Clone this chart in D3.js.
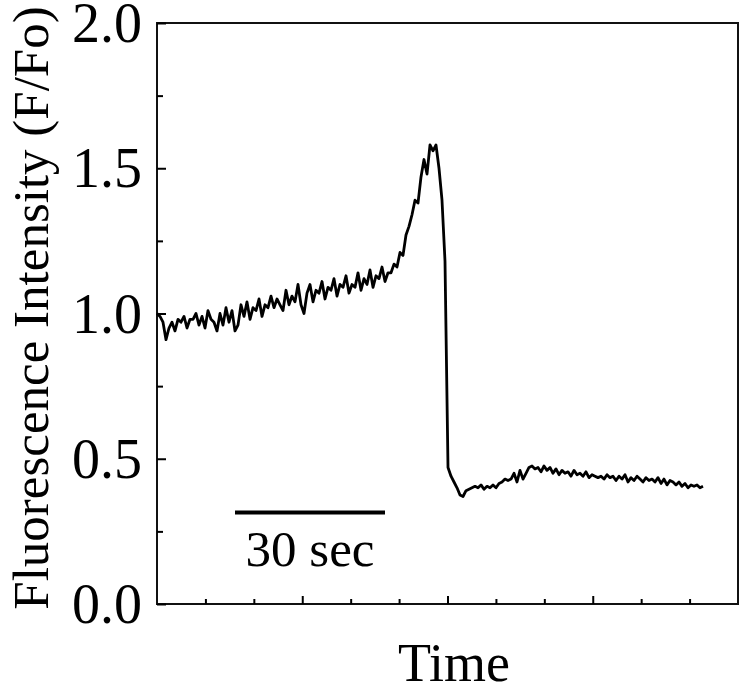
<!DOCTYPE html>
<html>
<head>
<meta charset="utf-8">
<script src="https://cdn.jsdelivr.net/npm/d3@7"></script>
<style>
  body { margin: 0; background: #fff; }
  svg text { font-family: "Liberation Serif", "Times New Roman", serif; fill: #000; }
</style>
</head>
<body>
<div id="chart"></div>
<script>
// fluorescence trace, one sample every 0.6 s
const sampleInterval = 0.6
const fluorescence = [
  1.00, 0.99, 0.97, 0.91, 0.95, 0.97, 0.94, 0.98, 0.97, 0.99,
  0.95, 0.98, 0.98, 1.00, 0.96, 0.99, 0.95, 1.01, 0.98, 0.97,
  0.94, 1.00, 0.96, 1.02, 0.97, 1.01, 0.94, 0.96, 1.03, 0.99,
  1.04, 0.98, 1.02, 1.01, 1.05, 0.99, 1.03, 1.02, 1.06, 1.02,
  1.05, 1.03, 1.01, 1.08, 1.03, 1.06, 1.04, 1.10, 1.03, 1.00,
  1.07, 1.10, 1.04, 1.08, 1.07, 1.11, 1.05, 1.09, 1.08, 1.12,
  1.06, 1.10, 1.09, 1.13, 1.07, 1.10, 1.09, 1.14, 1.08, 1.12,
  1.10, 1.15, 1.09, 1.13, 1.12, 1.16, 1.11, 1.14, 1.14, 1.17,
  1.16, 1.21, 1.20, 1.27, 1.30, 1.34, 1.39, 1.38, 1.47, 1.53,
  1.48, 1.58, 1.56, 1.58, 1.50, 1.39, 1.18, 0.47, 0.44, 0.42,
  0.40, 0.375, 0.37, 0.39, 0.395,
  0.40, 0.405, 0.40, 0.41, 0.395, 0.405, 0.40, 0.41, 0.40, 0.415,
  0.42, 0.43, 0.425, 0.43, 0.45, 0.42, 0.46, 0.43, 0.45, 0.47,
  0.475, 0.465, 0.47, 0.455, 0.475, 0.46, 0.47, 0.45, 0.465, 0.445,
  0.46, 0.45, 0.455, 0.44, 0.46, 0.445, 0.45, 0.44, 0.455, 0.435,
  0.445, 0.44, 0.435, 0.44, 0.43, 0.445, 0.435, 0.44, 0.425, 0.44,
  0.43, 0.445, 0.42, 0.435, 0.425, 0.44, 0.43, 0.42, 0.435, 0.425,
  0.43, 0.42, 0.435, 0.415, 0.43, 0.41, 0.425, 0.42, 0.41, 0.42,
  0.405, 0.415, 0.40, 0.41, 0.405, 0.41, 0.40, 0.405
]
const yTickLabels = ["0.0", "0.5", "1.0", "1.5", "2.0"]
const yMinorTicks = [0.25, 0.75, 1.25, 1.75]
const xDomainEnd = 116.2   // seconds spanned by the frame
const xTickCount = 12
const scaleBarStart = 15.6
const scaleBarLength = 30

const trace = fluorescence.map((v, i) => ({t: i * sampleInterval, value: v}))

const W = 745, H = 692
const margin = {left: 157, top: 23, right: 7, bottom: 88}
const innerW = W - margin.left - margin.right
const innerH = H - margin.top - margin.bottom

const svg = d3.select("#chart")
  .append("svg")
    .attr("width", W)
    .attr("height", H)

const g = svg.append("g")
  .attr("transform", `translate(${margin.left}, ${margin.top})`)

const x = d3.scaleLinear()
  .domain([0, xDomainEnd])
  .range([0, innerW])

const y = d3.scaleLinear()
  .domain([0, 2])
  .range([innerH, 0])

// frame
g.append("rect")
  .attr("width", innerW)
  .attr("height", innerH)
  .attr("fill", "none")
  .attr("stroke", "#111")
  .attr("stroke-width", 2)

// y axis, ticks pointing inward
const yAxis = g.append("g")
  .call(d3.axisRight(y)
    .tickValues(yTickLabels.map(Number))
    .tickSize(9)
    .tickFormat(""))
yAxis.select(".domain").remove()
yAxis.selectAll("line").attr("stroke", "#000").attr("stroke-width", 2)

const yMinor = g.append("g")
  .call(d3.axisRight(y).tickValues(yMinorTicks).tickSize(6).tickFormat(""))
yMinor.select(".domain").remove()
yMinor.selectAll("line").attr("stroke", "#000").attr("stroke-width", 2)

g.selectAll(".ylab")
  .data(yTickLabels)
  .enter()
  .append("text")
    .attr("class", "ylab")
    .attr("x", -15)
    .attr("y", d => y(+d))
    .attr("dy", "0.34em")
    .attr("text-anchor", "end")
    .style("font-size", "56px")
    .text(d => d)

// x axis, ticks pointing up into the plot
const xTicks = d3.range(1, xTickCount).map(k => k * xDomainEnd / xTickCount)
const xAxis = g.append("g")
  .attr("transform", `translate(0, ${innerH})`)
  .call(d3.axisTop(x)
    .tickValues(xTicks)
    .tickSize(5)
    .tickFormat(""))
xAxis.select(".domain").remove()
xAxis.selectAll("line")
  .attr("stroke", "#000")
  .attr("stroke-width", 2)
  .attr("y2", (d, i) => (i + 1) % 3 === 0 ? -8 : -5)

// trace
g.append("path")
  .datum(trace)
  .attr("fill", "none")
  .attr("stroke", "#000")
  .attr("stroke-width", 2.8)
  .attr("stroke-linejoin", "round")
  .attr("d", d3.line()
    .x(d => x(d.t))
    .y(d => y(d.value)))

// 30 sec scale bar
g.append("line")
  .attr("x1", x(scaleBarStart))
  .attr("x2", x(scaleBarStart + scaleBarLength))
  .attr("y1", y(0.315))
  .attr("y2", y(0.315))
  .attr("stroke", "#000")
  .attr("stroke-width", 4)

g.append("text")
  .attr("x", x(scaleBarStart + scaleBarLength / 2))
  .attr("y", y(0.13))
  .attr("text-anchor", "middle")
  .style("font-size", "51px")
  .text("30 sec")

// axis titles
svg.append("text")
  .attr("x", 454)
  .attr("y", 681)
  .attr("text-anchor", "middle")
  .style("font-size", "54px")
  .text("Time")

svg.append("text")
  .attr("transform", `translate(48, 308) rotate(-90)`)
  .attr("text-anchor", "middle")
  .style("font-size", "51px")
  .text("Fluorescence Intensity (F/Fo)")
</script>
</body>
</html>
